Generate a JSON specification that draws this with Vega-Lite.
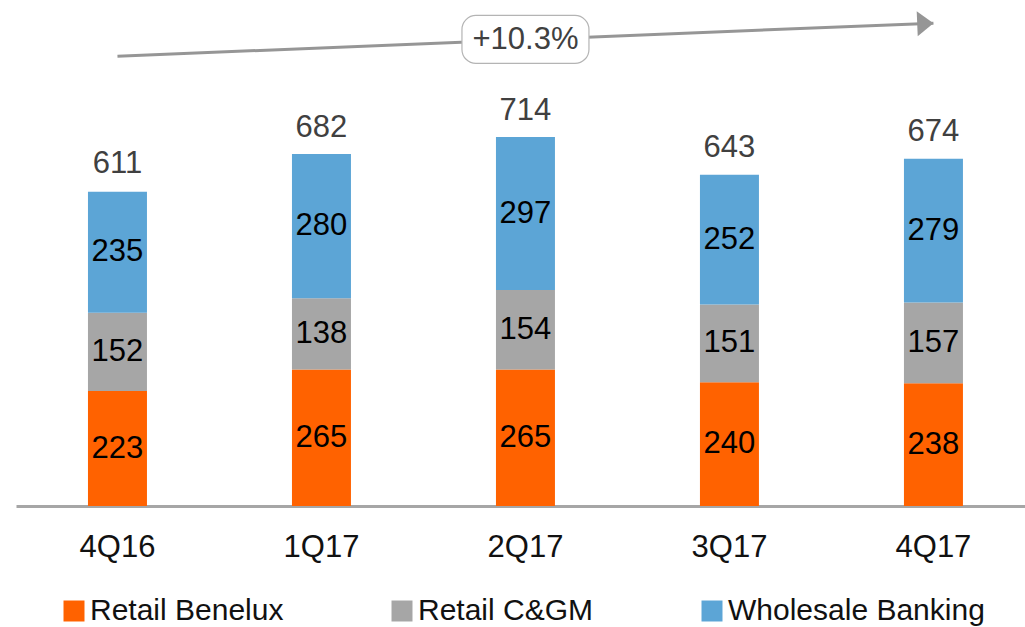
{
  "$schema": "https://vega.github.io/schema/vega-lite/v6.json",
  "width": 1009,
  "height": 506,
  "autosize": {"type": "none"},
  "padding": {"left": 16, "top": 0, "right": 0, "bottom": 121},
  "background": "white",
  "config": {"view": {"stroke": null}, "font": "Liberation Sans"},
  "datasets": {
    "segments": [
      {"quarter": "4Q16", "segment": "Retail Benelux", "value": 223},
      {"quarter": "4Q16", "segment": "Retail C&GM", "value": 152},
      {"quarter": "4Q16", "segment": "Wholesale Banking", "value": 235},
      {"quarter": "1Q17", "segment": "Retail Benelux", "value": 265},
      {"quarter": "1Q17", "segment": "Retail C&GM", "value": 138},
      {"quarter": "1Q17", "segment": "Wholesale Banking", "value": 280},
      {"quarter": "2Q17", "segment": "Retail Benelux", "value": 265},
      {"quarter": "2Q17", "segment": "Retail C&GM", "value": 154},
      {"quarter": "2Q17", "segment": "Wholesale Banking", "value": 297},
      {"quarter": "3Q17", "segment": "Retail Benelux", "value": 240},
      {"quarter": "3Q17", "segment": "Retail C&GM", "value": 151},
      {"quarter": "3Q17", "segment": "Wholesale Banking", "value": 252},
      {"quarter": "4Q17", "segment": "Retail Benelux", "value": 238},
      {"quarter": "4Q17", "segment": "Retail C&GM", "value": 157},
      {"quarter": "4Q17", "segment": "Wholesale Banking", "value": 279}
    ],
    "totals": [
      {"quarter": "4Q16", "total": 611},
      {"quarter": "1Q17", "total": 682},
      {"quarter": "2Q17", "total": 714},
      {"quarter": "3Q17", "total": 643},
      {"quarter": "4Q17", "total": 674}
    ],
    "trend": [{"from": "4Q16", "to": "4Q17", "start": 873, "end": 937}],
    "arrowhead": [{"quarter": "4Q17", "level": 937}],
    "badge": [{"quarter": "2Q17", "low": 859, "high": 952, "mid": 904, "label": "+10.3%"}]
  },
  "layer": [
    {
      "data": {"name": "segments"},
      "mark": {"type": "bar"},
      "encoding": {
        "x": {
          "field": "quarter",
          "type": "nominal",
          "title": null,
          "scale": {
            "domain": ["4Q16", "1Q17", "2Q17", "3Q17", "4Q17"],
            "paddingInner": 0.7108,
            "paddingOuter": 0.3285,
            "align": 0.537
          },
          "axis": {
            "labelAngle": 0,
            "labelFontSize": 31,
            "labelColor": "#111111",
            "labelPadding": 26,
            "ticks": false,
            "tickSize": 0,
            "domainColor": "#a6a6a6",
            "domainWidth": 3,
            "grid": false
          }
        },
        "y": {
          "field": "value",
          "type": "quantitative",
          "stack": "zero",
          "scale": {"domain": [0, 982], "nice": false, "zero": true},
          "axis": null
        },
        "order": {"field": "segment", "type": "nominal", "sort": "ascending"},
        "color": {
          "field": "segment",
          "type": "nominal",
          "scale": {
            "domain": ["Retail Benelux", "Retail C&GM", "Wholesale Banking"],
            "range": ["#FF6200", "#A6A6A6", "#5CA5D6"]
          },
          "legend": {
            "orient": "none",
            "legendX": 43,
            "legendY": 596,
            "direction": "horizontal",
            "title": null,
            "symbolType": "square",
            "symbolSize": 441,
            "symbolStrokeWidth": 0,
            "symbolOpacity": 1,
            "labelFontSize": 30,
            "labelColor": "#111111",
            "labelOffset": 1,
            "columnPadding": 103,
            "labelLimit": 400
          }
        }
      }
    },
    {
      "data": {"name": "segments"},
      "transform": [
        {"stack": "value", "groupby": ["quarter"], "sort": [{"field": "segment", "order": "ascending"}], "as": ["lo", "hi"]},
        {"fold": ["lo", "hi"], "as": ["edge", "pos"]},
        {"aggregate": [{"op": "mean", "field": "pos", "as": "mid"}], "groupby": ["quarter", "segment", "value"]}
      ],
      "mark": {"type": "text", "baseline": "middle", "align": "center", "fontSize": 31, "color": "#000000"},
      "encoding": {
        "x": {"field": "quarter", "type": "nominal"},
        "y": {"field": "mid", "type": "quantitative"},
        "text": {"field": "value", "type": "quantitative"}
      }
    },
    {
      "data": {"name": "totals"},
      "mark": {"type": "text", "baseline": "alphabetic", "align": "center", "fontSize": 31, "color": "#404040", "dy": -18},
      "encoding": {
        "x": {"field": "quarter", "type": "nominal"},
        "y": {"field": "total", "type": "quantitative"},
        "text": {"field": "total", "type": "quantitative"}
      }
    },
    {
      "data": {"name": "trend"},
      "mark": {"type": "rule", "color": "#969696", "strokeWidth": 3},
      "encoding": {
        "x": {"field": "from", "type": "nominal"},
        "x2": {"field": "to"},
        "y": {"field": "start", "type": "quantitative"},
        "y2": {"field": "end"}
      }
    },
    {
      "data": {"name": "arrowhead"},
      "mark": {"type": "point", "shape": "M-1.3,-1L0,0L-1.3,1Z", "size": 625, "filled": true, "color": "#969696", "opacity": 1, "angle": 357.7},
      "encoding": {
        "x": {"field": "quarter", "type": "nominal"},
        "y": {"field": "level", "type": "quantitative"}
      }
    },
    {
      "data": {"name": "badge"},
      "mark": {"type": "bar", "width": 127, "cornerRadius": 14, "fill": "white", "stroke": "#b4b4b4", "strokeWidth": 1.2},
      "encoding": {
        "x": {"field": "quarter", "type": "nominal"},
        "y": {"field": "low", "type": "quantitative"},
        "y2": {"field": "high"}
      }
    },
    {
      "data": {"name": "badge"},
      "mark": {"type": "text", "baseline": "middle", "align": "center", "fontSize": 31, "color": "#404040"},
      "encoding": {
        "x": {"field": "quarter", "type": "nominal"},
        "y": {"field": "mid", "type": "quantitative"},
        "text": {"field": "label"}
      }
    }
  ]
}
